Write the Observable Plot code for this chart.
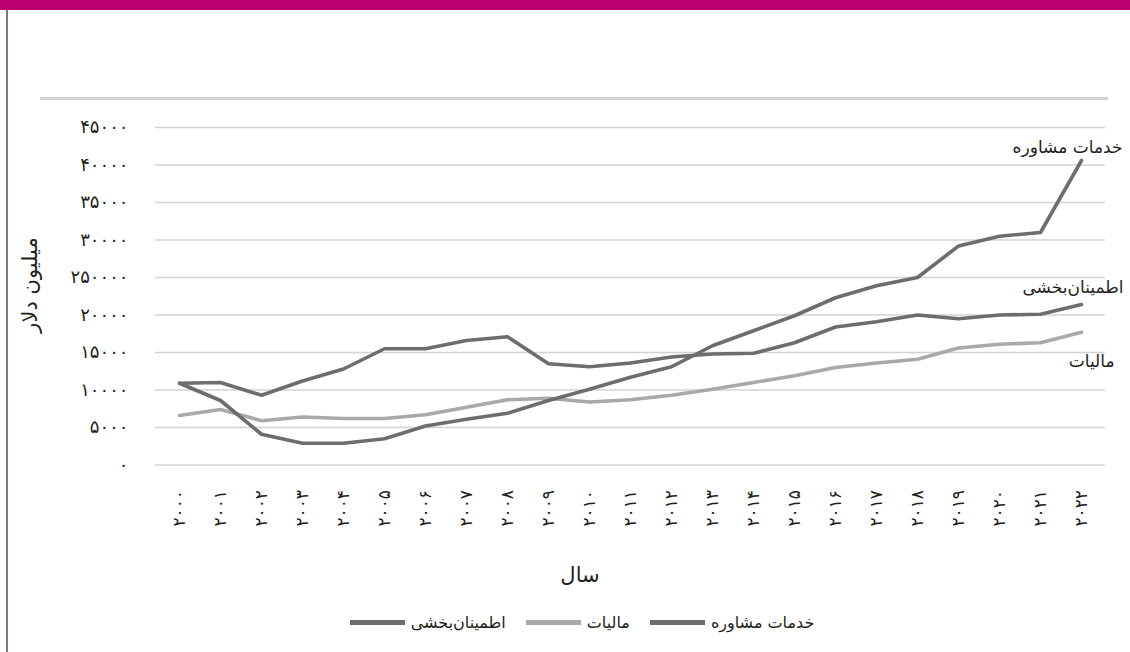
<!DOCTYPE html>
<html><head><meta charset="utf-8">
<script src="https://cdn.jsdelivr.net/npm/d3@7"></script>
<script src="https://cdn.jsdelivr.net/npm/@observablehq/plot@0.6"></script>
<style>
body{margin:0;background:#fff;font-family:"DejaVu Sans",sans-serif;color:#231f20;}
#wrap{position:relative;width:1130px;height:652px;overflow:hidden;}
#bar{position:absolute;left:0;top:0;width:1130px;height:10px;background:#bd0070;}
#border{position:absolute;left:6px;top:10px;width:2px;height:642px;background:#857479;}
#topline{position:absolute;left:40px;top:97px;width:1068px;height:3px;background:#d2d2d2;}
#chart{position:absolute;left:0;top:0;}
#ylabel{position:absolute;left:30px;top:285px;transform:translate(-50%,-50%) rotate(-90deg);font-size:21px;white-space:nowrap;}
#xlabel{position:absolute;left:580px;top:575px;transform:translate(-50%,-50%);font-size:21px;white-space:nowrap;}
#legend{position:absolute;top:610px;left:0;width:1164px;display:flex;justify-content:center;align-items:center;direction:rtl;font-size:16px;height:24px;}
.item{display:flex;align-items:center;margin:0 10px;}
.sw{display:inline-block;width:55px;height:5px;margin-right:6px;}
</style>
</head><body>
<div id="wrap">
  <div id="bar"></div>
  <div id="border"></div>
  <div id="topline"></div>
  <div id="chart"></div>
  <div id="ylabel">میلیون دلار</div>
  <div id="xlabel">سال</div>
  <div id="legend"></div>
</div>
<script>
const years = [2000,2001,2002,2003,2004,2005,2006,2007,2008,2009,2010,2011,2012,2013,2014,2015,2016,2017,2018,2019,2020,2021,2022];
const consulting = [10900,8600,4100,2900,2900,3500,5200,6100,6900,8600,10100,11700,13100,15900,17900,19900,22300,23900,25000,29200,30500,31000,40600];
const assurance = [10900,11000,9300,11200,12800,15500,15500,16600,17100,13500,13100,13600,14400,14800,14900,16300,18400,19100,20000,19500,20000,20100,21400];
const tax = [6600,7400,5900,6400,6200,6200,6700,7700,8700,8900,8400,8700,9300,10100,11000,11900,13000,13600,14100,15600,16100,16300,17700];
const seriesNames = ["خدمات مشاوره","مالیات","اطمینان\u200cبخشی"];
const seriesColors = ["#6d6d6f","#a9a9ab","#6d6d6f"];
const yTicks = [0,5000,10000,15000,20000,25000,30000,35000,40000,45000];
const yTickLabels = ["۰","۵۰۰۰","۱۰۰۰۰","۱۵۰۰۰","۲۰۰۰۰","۲۵۰۰۰۰","۳۰۰۰۰","۳۵۰۰۰","۴۰۰۰۰","۴۵۰۰۰"];
const faDigits = ["۰","۱","۲","۳","۴","۵","۶","۷","۸","۹"];
const toFa = (n) => String(n).replace(/[0-9]/g, (c) => faDigits[+c]);

const seriesValues = [consulting, tax, assurance];
const rows = seriesValues.map((vals, s) => years.map((yr, i) => ({year: yr, value: vals[i], series: seriesNames[s]})));
const labelOffsets = [{dx: 41, dy: -13}, {dx: 33, dy: 29}, {dx: 42, dy: -17}];

const marks = [
  Plot.ruleY(yTicks, {stroke: "#d3d3d3", strokeWidth: 1.6}),
  Plot.axisY({ticks: yTicks, tickSize: 0, tickPadding: 27, tickFormat: (d) => yTickLabels[yTicks.indexOf(d)], label: null, fontSize: 18}),
  Plot.axisX({tickSize: 0, tickPadding: 25, tickRotate: -90, tickFormat: (d) => toFa(d), label: null, fontSize: 17})
];
[1, 2, 0].forEach((s) => {
  marks.push(Plot.lineY(rows[s], {x: "year", y: "value", stroke: seriesColors[s], strokeWidth: 3.6, strokeLinejoin: "round"}));
});
[0, 1, 2].forEach((s) => {
  const last = rows[s][rows[s].length - 1];
  marks.push(Plot.text([last], {x: "year", y: "value", text: "series", textAnchor: "end", dx: labelOffsets[s].dx, dy: labelOffsets[s].dy, fontSize: 17, fill: "#231f20"}));
});

const chart = Plot.plot({
  width: 1130, height: 600,
  marginLeft: 155, marginRight: 25, marginTop: 127, marginBottom: 135.5,
  x: {type: "point", domain: years, padding: 0.5},
  y: {domain: [0, 45000]},
  style: {fontFamily: "DejaVu Sans", fontSize: "14px", color: "#231f20", background: "transparent"},
  marks
});
document.getElementById("chart").appendChild(chart);

const legend = document.getElementById("legend");
seriesNames.forEach((name, s) => {
  const item = document.createElement("div");
  item.className = "item";
  const t = document.createElement("span");
  t.textContent = name;
  const sw = document.createElement("span");
  sw.className = "sw";
  sw.style.background = seriesColors[s];
  item.appendChild(t);
  item.appendChild(sw);
  legend.appendChild(item);
});
</script>
</body></html>
